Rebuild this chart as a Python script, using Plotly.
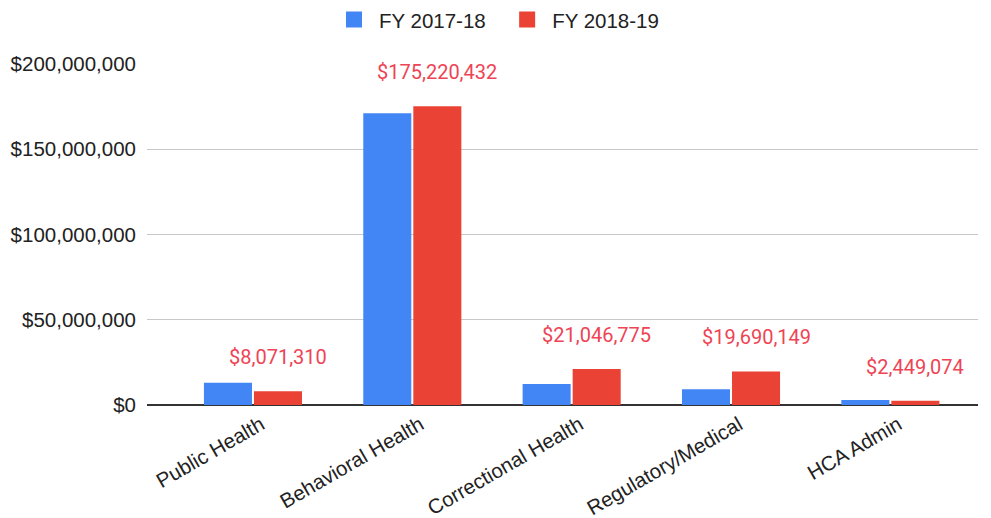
import plotly.graph_objects as go

categories = ["Public Health", "Behavioral Health", "Correctional Health", "Regulatory/Medical", "HCA Admin"]
fy_2017_18 = [13100000, 171100000, 12300000, 9200000, 2900000]
fy_2018_19 = [8071310, 175220432, 21046775, 19690149, 2449074]
series_names = ["FY 2017-18", "FY 2018-19"]
y_ticks = [0, 50000000, 100000000, 150000000, 200000000]
y_tick_labels = ["$0", "$50,000,000", "$100,000,000", "$150,000,000", "$200,000,000"]

BLUE = "#4285F4"
RED = "#EA4335"
LABEL_RED = "#EE4455"
TICK_FONT = dict(family="Liberation Sans, Arial, sans-serif", size=20.5, color="#222222")

fig = go.Figure()
fig.add_trace(go.Bar(x=categories, y=fy_2017_18, name=series_names[0], showlegend=False,
                     marker=dict(color=BLUE, line=dict(width=0))))
fig.add_trace(go.Bar(x=categories, y=fy_2018_19, name=series_names[1], showlegend=False,
                     marker=dict(color=RED, line=dict(width=0))))
# legend entries with larger square swatches
legend_pad = ["\u00a0\u00a0", ""]
for name, color, pad in zip(series_names, [BLUE, RED], legend_pad):
    fig.add_trace(go.Scatter(x=[None], y=[None], mode="markers", name=name + pad,
                             marker=dict(symbol="square", size=20, color=color)))

for cat, val in zip(categories, fy_2018_19):
    fig.add_annotation(x=cat, y=val, xref="x", yref="y",
                       text="${:,.0f}".format(val), showarrow=False,
                       xshift=25, yshift=34,
                       font=dict(family="Roboto, sans-serif", size=20, color=LABEL_RED))

fig.update_layout(
    width=991, height=518,
    margin=dict(l=147, r=13, t=64, b=113, autoexpand=False),
    paper_bgcolor="white", plot_bgcolor="white",
    barmode="group", bargap=0.372, bargroupgap=0.04,
    showlegend=True,
    legend=dict(orientation="h", xref="container", yref="container",
                x=0.501, y=0.962, xanchor="center", yanchor="middle",
                font=TICK_FONT, itemwidth=40, itemsizing="trace", tracegroupgap=0),
    xaxis=dict(type="category", range=[-0.665, 4.55], tickangle=-30,
               tickfont=TICK_FONT, showgrid=False, showline=False, ticks="",
               ticklabelstandoff=3, ticklabelshift=8),
    yaxis=dict(range=[0, 200000000], tickvals=y_ticks, ticktext=y_tick_labels,
               tickfont=TICK_FONT, showgrid=True, gridcolor="#c8c8c8", gridwidth=1,
               zeroline=True, zerolinecolor="#333333", zerolinewidth=2,
               ticklabelstandoff=10, showline=False, ticks=""),
)

fig.write_html("out.html", config={"displayModeBar": False},
               post_script="document.body.style.margin='0';document.body.style.overflow='hidden';")
